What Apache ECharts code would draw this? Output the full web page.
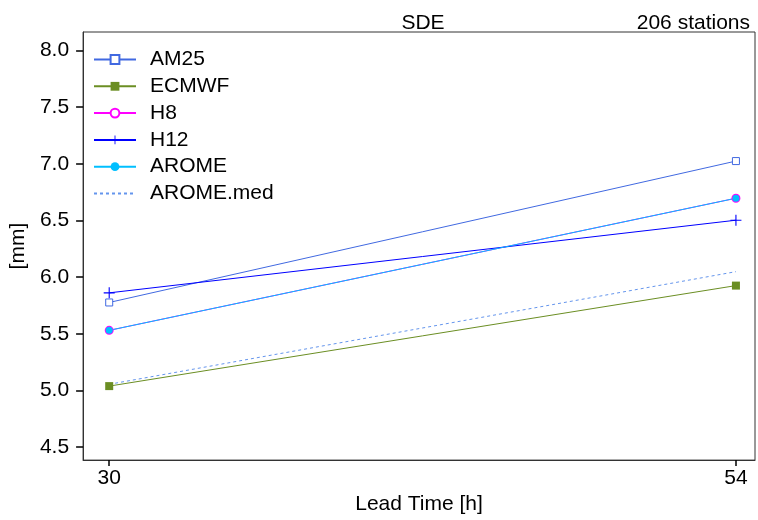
<!DOCTYPE html>
<html><head><meta charset="utf-8">
<script src="https://cdn.jsdelivr.net/npm/echarts@6/dist/echarts.min.js"></script>
<style>html,body{margin:0;padding:0;background:#fff}#c{width:758px;height:520px}</style>
</head><body><div id="c"></div>
<script>
const leadTimes = [30, 54];
const seriesNames = ['AM25', 'ECMWF', 'H8', 'H12', 'AROME', 'AROME.med'];
const am25 = [5.777, 7.025];
const ecmwf = [5.039, 5.926];
const h8 = [5.531, 6.697];
const h12 = [5.862, 6.503];
const arome = [5.531, 6.697];
const aromeMed = [5.055, 6.049];
const yTicks = [4.5, 5.0, 5.5, 6.0, 6.5, 7.0, 7.5, 8.0];
const xTicks = [30, 54];

const FONT = 'Liberation Sans';
const FS = 21;
const plusPath = 'path://M4.5,0h1v4.5h4.5v1h-4.5v4.5h-1v-4.5h-4.5v-1h4.5z';

function pts(arr){ return leadTimes.map((t,i)=>[t, arr[i]]); }

const legendData = seriesNames.map(n => n === 'AROME.med' ? {name: n, itemStyle: {opacity: 0}} : {name: n});

const chart = echarts.init(document.getElementById('c'), null, {renderer:'canvas'});
chart.setOption({
  animation: false,
  backgroundColor: '#fff',
  title: [
    {text: 'SDE', left: 418, top: 8, textAlign: 'center',
     textStyle: {fontFamily: FONT, fontSize: FS, fontWeight: 'normal', color: '#000'}},
    {text: '206 stations', right: 3, top: 8,
     textStyle: {fontFamily: FONT, fontSize: FS, fontWeight: 'normal', color: '#000'}}
  ],
  grid: {left: 83, right: 3, top: 32, bottom: 59, show: true, borderColor: '#333', borderWidth: 1, backgroundColor: 'transparent'},
  legend: {
    orient: 'vertical', left: 88, top: 44, itemWidth: 42, itemHeight: 11, itemGap: 5.8,
    data: legendData,
    textStyle: {fontFamily: FONT, fontSize: FS, lineHeight: 21, color: '#000', padding: [0,0,0,9]}
  },
  xAxis: {
    type: 'value', min: 29, max: 54.73,
    name: 'Lead Time [h]', nameLocation: 'middle', nameGap: 33,
    nameTextStyle: {fontFamily: FONT, fontSize: FS, color: '#000'},
    axisLine: {show: true, lineStyle: {color: '#333', width: 1}},
    axisTick: {show: true, inside: false, length: 6, customValues: xTicks, lineStyle: {color: '#000', width: 1.5}},
    axisLabel: {customValues: xTicks, fontFamily: FONT, fontSize: FS, color: '#000', margin: 8},
    splitLine: {show: false}
  },
  yAxis: {
    type: 'value', min: 4.386, max: 8.164,
    name: '[mm]', nameLocation: 'middle', nameGap: 51, nameRotate: 90,
    nameTextStyle: {fontFamily: FONT, fontSize: FS, color: '#000'},
    axisLine: {show: true, lineStyle: {color: '#333', width: 1}},
    axisTick: {show: true, inside: false, length: 7, customValues: yTicks, lineStyle: {color: '#000', width: 1.5}},
    axisLabel: {customValues: yTicks, fontFamily: FONT, fontSize: FS, color: '#000', margin: 14,
      formatter: v => v.toFixed(1)},
    splitLine: {show: false}
  },
  series: [
    {name: 'AM25', type: 'line', data: pts(am25), symbol: 'rect', symbolSize: 7,
     lineStyle: {color: '#4169E1', width: 1},
     itemStyle: {color: '#fff', borderColor: '#4169E1', borderWidth: 1}},
    {name: 'ECMWF', type: 'line', data: pts(ecmwf), symbol: 'rect', symbolSize: 8,
     lineStyle: {color: '#6B8E23', width: 1},
     itemStyle: {color: '#6B8E23'}},
    {name: 'H8', type: 'line', data: pts(h8), symbol: 'emptyCircle', symbolSize: 7,
     lineStyle: {color: '#FF00FF', width: 1},
     itemStyle: {color: '#FF00FF', borderWidth: 1}},
    {name: 'H12', type: 'line', data: pts(h12), symbol: plusPath, symbolSize: 11,
     lineStyle: {color: '#0000FF', width: 1},
     itemStyle: {color: '#0000FF'}},
    {name: 'AROME', type: 'line', data: pts(arome), symbol: 'circle', symbolSize: 7,
     lineStyle: {color: '#00BFFF', width: 1},
     itemStyle: {color: '#00BFFF'}},
    {name: 'AROME.med', type: 'line', data: pts(aromeMed), symbol: 'none',
     lineStyle: {color: '#6495ED', width: 1, type: [3, 3]},
     itemStyle: {color: '#6495ED'}}
  ]
});
</script></body></html>
